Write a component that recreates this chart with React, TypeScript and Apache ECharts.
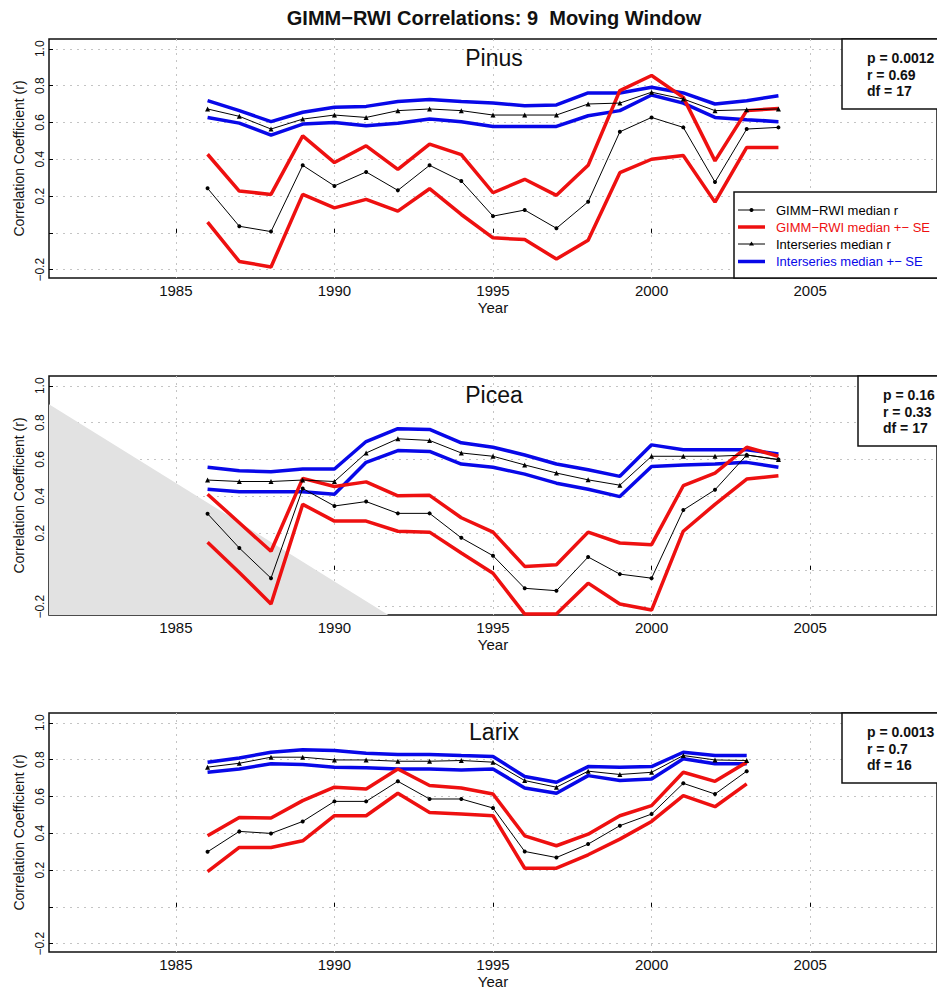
import React, { useEffect, useRef } from "react";
import * as echarts from "echarts";

const YEARS_A = [1986, 1987, 1988, 1989, 1990, 1991, 1992, 1993, 1994, 1995, 1996, 1997, 1998, 1999, 2000, 2001, 2002, 2003, 2004];
const YEARS_B = [1986, 1987, 1988, 1989, 1990, 1991, 1992, 1993, 1994, 1995, 1996, 1997, 1998, 1999, 2000, 2001, 2002, 2003];

const PANEL_NAMES = ["Pinus", "Picea", "Larix"];
const STATS_P = ["p = 0.0012", "p = 0.16", "p = 0.0013"];
const STATS_R = ["r = 0.69", "r = 0.33", "r = 0.7"];
const STATS_DF = ["df = 17", "df = 17", "df = 16"];

const X_TICKS = [1985, 1990, 1995, 2000, 2005];
const Y_TICKS = [-0.2, 0, 0.2, 0.4, 0.6, 0.8, 1.0];
const Y_LABELS = [-0.2, 0.2, 0.4, 0.6, 0.8, 1.0];

const LEGEND_LABELS = ["GIMM\u2212RWI median r", "GIMM\u2212RWI median +\u2212 SE", "Interseries median r", "Interseries median +\u2212 SE"];

// Pinus
const pinusGimm = [0.242, 0.036, 0.007, 0.367, 0.255, 0.331, 0.231, 0.367, 0.282, 0.091, 0.124, 0.025, 0.169, 0.549, 0.627, 0.573, 0.276, 0.564, 0.573];
const pinusGimmHi = [0.427, 0.227, 0.209, 0.527, 0.382, 0.473, 0.345, 0.482, 0.425, 0.218, 0.291, 0.204, 0.367, 0.773, 0.855, 0.736, 0.391, 0.664, 0.676];
const pinusGimmLo = [0.058, -0.155, -0.185, 0.209, 0.136, 0.182, 0.118, 0.24, 0.1, -0.027, -0.036, -0.142, -0.04, 0.327, 0.4, 0.42, 0.167, 0.464, 0.464];
const pinusInter = [0.673, 0.633, 0.564, 0.618, 0.64, 0.627, 0.664, 0.673, 0.664, 0.64, 0.64, 0.64, 0.7, 0.705, 0.764, 0.727, 0.664, 0.669, 0.673];
const pinusInterHi = [0.718, 0.664, 0.604, 0.655, 0.682, 0.687, 0.713, 0.724, 0.713, 0.705, 0.691, 0.695, 0.76, 0.76, 0.791, 0.76, 0.7, 0.718, 0.745];
const pinusInterLo = [0.627, 0.596, 0.531, 0.591, 0.6, 0.582, 0.596, 0.618, 0.604, 0.578, 0.578, 0.578, 0.636, 0.664, 0.749, 0.705, 0.627, 0.615, 0.604];

// Picea
const piceaGimm = [0.305, 0.119, -0.045, 0.442, 0.347, 0.371, 0.307, 0.307, 0.174, 0.077, -0.1, -0.113, 0.07, -0.023, -0.045, 0.325, 0.435, 0.624, 0.599];
const piceaGimmHi = [0.411, 0.256, 0.101, 0.497, 0.453, 0.478, 0.402, 0.405, 0.283, 0.205, 0.019, 0.028, 0.205, 0.146, 0.137, 0.457, 0.526, 0.666, 0.617];
const piceaGimmLo = [0.15, -0.014, -0.185, 0.356, 0.265, 0.265, 0.21, 0.205, 0.092, -0.018, -0.24, -0.24, -0.072, -0.185, -0.218, 0.21, 0.356, 0.493, 0.511];
const piceaInter = [0.488, 0.48, 0.48, 0.488, 0.48, 0.635, 0.712, 0.703, 0.635, 0.617, 0.57, 0.526, 0.489, 0.46, 0.617, 0.617, 0.617, 0.624, 0.599];
const piceaInterHi = [0.557, 0.539, 0.533, 0.548, 0.548, 0.697, 0.767, 0.763, 0.69, 0.666, 0.624, 0.575, 0.544, 0.508, 0.679, 0.653, 0.653, 0.653, 0.63];
const piceaInterLo = [0.438, 0.424, 0.424, 0.424, 0.411, 0.584, 0.648, 0.643, 0.575, 0.557, 0.52, 0.471, 0.438, 0.398, 0.562, 0.57, 0.575, 0.584, 0.557];

// Larix
const larixGimm = [0.299, 0.41, 0.399, 0.464, 0.573, 0.573, 0.682, 0.586, 0.586, 0.537, 0.301, 0.268, 0.341, 0.441, 0.504, 0.671, 0.613, 0.737];
const larixGimmHi = [0.386, 0.486, 0.483, 0.577, 0.65, 0.64, 0.749, 0.659, 0.646, 0.613, 0.386, 0.332, 0.395, 0.495, 0.55, 0.731, 0.682, 0.786];
const larixGimmLo = [0.192, 0.323, 0.323, 0.359, 0.495, 0.495, 0.617, 0.513, 0.504, 0.495, 0.21, 0.21, 0.283, 0.368, 0.464, 0.604, 0.544, 0.668];
const larixInter = [0.759, 0.78, 0.813, 0.813, 0.798, 0.798, 0.791, 0.791, 0.795, 0.786, 0.686, 0.65, 0.737, 0.719, 0.731, 0.822, 0.798, 0.795];
const larixInterHi = [0.786, 0.809, 0.84, 0.853, 0.849, 0.835, 0.828, 0.828, 0.822, 0.817, 0.708, 0.677, 0.762, 0.759, 0.762, 0.84, 0.822, 0.822];
const larixInterLo = [0.731, 0.749, 0.777, 0.773, 0.759, 0.755, 0.749, 0.749, 0.744, 0.749, 0.646, 0.617, 0.713, 0.686, 0.695, 0.804, 0.777, 0.777];

// Picea grey wedge (year, r)
const WEDGE_X = [1981, 1991.7];
const WEDGE_Y = [0.9, -0.245];

const FONT = "'Liberation Sans', Arial, Helvetica, sans-serif";
const RED = "#ee1010";
const BLUE = "#0808e8";

const GRID_LEFT = 49;
const GRID_W = 889;
const GRID_H = 239;
const GRID_TOPS = [39, 376, 713];
const STAT_BOX_X = [842, 858, 842];

function pairs(xs: number[], ys: number[]) {
  return xs.map((x, i) => [x, ys[i]]);
}

export default function App() {
  const ref = useRef<HTMLDivElement>(null);

  useEffect(() => {
    if (!ref.current) return;
    const chart = echarts.init(ref.current, undefined, { renderer: "svg" });

    const panels = [
      { years: YEARS_A, g: pinusGimm, gh: pinusGimmHi, gl: pinusGimmLo, s: pinusInter, sh: pinusInterHi, sl: pinusInterLo },
      { years: YEARS_A, g: piceaGimm, gh: piceaGimmHi, gl: piceaGimmLo, s: piceaInter, sh: piceaInterHi, sl: piceaInterLo },
      { years: YEARS_B, g: larixGimm, gh: larixGimmHi, gl: larixGimmLo, s: larixInter, sh: larixInterHi, sl: larixInterLo },
    ];

    const grids = GRID_TOPS.map((t) => ({
      left: GRID_LEFT,
      top: t,
      width: GRID_W,
      height: GRID_H,
      show: true,
      borderColor: "#111",
      borderWidth: 1.5,
      backgroundColor: "transparent",
    }));

    const xAxes = GRID_TOPS.map((_, i) => ({
      type: "value",
      gridIndex: i,
      min: 1981,
      max: 2009,
      axisLine: { show: false },
      axisTick: { show: true, inside: true, length: 4, customValues: X_TICKS, lineStyle: { color: "#000", width: 1 } },
      axisLabel: {
        customValues: X_TICKS,
        fontSize: 15,
        fontFamily: FONT,
        color: "#111",
        margin: 5,
        formatter: (v: number) => String(Math.round(v)),
      },
      splitLine: { show: true, lineStyle: { color: "#c4c4c4", width: 1, type: [2, 5] } },
      name: "Year",
      nameLocation: "middle",
      nameGap: 22,
      nameTextStyle: { fontSize: 15, fontFamily: FONT, color: "#111" },
    }));

    const yAxes = GRID_TOPS.map((_, i) => ({
      type: "value",
      gridIndex: i,
      min: -0.245,
      max: 1.053,
      axisLine: { show: false },
      axisTick: { show: true, inside: true, length: 4, customValues: Y_TICKS, lineStyle: { color: "#000", width: 1 } },
      axisLabel: {
        customValues: Y_LABELS,
        rotate: 90,
        fontSize: 12,
        fontFamily: FONT,
        color: "#111",
        margin: 3,
        formatter: (v: number) => (v < 0 ? "\u2212" + Math.abs(v).toFixed(1) : v.toFixed(1)),
      },
      splitLine: { show: true, lineStyle: { color: "#c4c4c4", width: 1, type: [2, 5] } },
      name: "Correlation Coefficient (r)",
      nameLocation: "middle",
      nameGap: 20,
      nameTextStyle: { fontSize: 14, fontFamily: FONT, color: "#111" },
    }));

    const series: any[] = [];
    // grey wedge on Picea
    series.push({
      type: "line",
      xAxisIndex: 1,
      yAxisIndex: 1,
      data: pairs(WEDGE_X, WEDGE_Y),
      symbol: "none",
      lineStyle: { width: 0, opacity: 0 },
      areaStyle: { color: "#e2e2e2", opacity: 1, origin: "start" },
      z: 1,
      silent: true,
    });

    panels.forEach((p, i) => {
      const common = { type: "line", xAxisIndex: i, yAxisIndex: i, silent: true };
      [p.sh, p.sl].forEach((arr) =>
        series.push({ ...common, data: pairs(p.years, arr), symbol: "none", lineStyle: { color: BLUE, width: 3.5 }, z: 3 })
      );
      [p.gh, p.gl].forEach((arr) =>
        series.push({ ...common, data: pairs(p.years, arr), symbol: "none", lineStyle: { color: RED, width: 3.5 }, z: 4 })
      );
      series.push({
        ...common,
        data: pairs(p.years, p.g),
        symbol: "circle",
        symbolSize: 4,
        itemStyle: { color: "#000" },
        lineStyle: { color: "#000", width: 1 },
        z: 5,
      });
      series.push({
        ...common,
        data: pairs(p.years, p.s),
        symbol: "triangle",
        symbolSize: 5,
        itemStyle: { color: "#000" },
        lineStyle: { color: "#000", width: 1 },
        z: 5,
      });
    });

    const txt = (text: string, x: number, y: number, size: number, opts: any = {}) => ({
      type: "text",
      x,
      y,
      z: 110,
      silent: true,
      style: {
        text,
        fontSize: size,
        fontFamily: FONT,
        fontWeight: opts.weight || "normal",
        fill: opts.color || "#111",
        align: opts.align || "left",
        textAlign: opts.align || "left",
        verticalAlign: "middle",
        textVerticalAlign: "middle",
      },
    });

    const graphics: any[] = [];
    graphics.push(txt("GIMM\u2212RWI Correlations: 9  Moving Window", 494, 18, 20, { weight: "bold", align: "center" }));

    GRID_TOPS.forEach((t, i) => {
      graphics.push(txt(PANEL_NAMES[i], 494, t + 19, 23, { align: "center" }));
      const bx = STAT_BOX_X[i];
      graphics.push({
        type: "rect",
        z: 100,
        silent: true,
        shape: { x: bx, y: t, width: 120, height: 70 },
        style: { fill: "#fff", stroke: "#111", lineWidth: 1.5 },
      });
      graphics.push(txt(STATS_P[i], bx + 25, t + 19, 14, { weight: "bold" }));
      graphics.push(txt(STATS_R[i], bx + 25, t + 36, 14, { weight: "bold" }));
      graphics.push(txt(STATS_DF[i], bx + 25, t + 52, 14, { weight: "bold" }));
    });

    // legend in first panel
    const lt = 192;
    graphics.push({
      type: "rect",
      z: 100,
      silent: true,
      shape: { x: 734, y: lt, width: 220, height: GRID_TOPS[0] + GRID_H - lt },
      style: { fill: "#fff", stroke: "#111", lineWidth: 1.5 },
    });
    const rowY = [210, 227, 244, 261.5];
    const rowColor = ["#000", RED, "#000", BLUE];
    const rowWidth = [1, 3.5, 1, 3.5];
    rowY.forEach((y, k) => {
      graphics.push({
        type: "line",
        z: 105,
        silent: true,
        shape: { x1: 738, y1: y, x2: 765, y2: y },
        style: { stroke: rowColor[k], lineWidth: rowWidth[k] },
      });
      if (k === 0) {
        graphics.push({ type: "circle", z: 106, silent: true, shape: { cx: 751.5, cy: y, r: 2 }, style: { fill: "#000" } });
      }
      if (k === 2) {
        graphics.push({
          type: "polygon",
          z: 106,
          silent: true,
          shape: { points: [[751.5, y - 2.6], [754, y + 1.6], [749, y + 1.6]] },
          style: { fill: "#000" },
        });
      }
      graphics.push(txt(LEGEND_LABELS[k], 776, y, 13, { color: rowColor[k] }));
    });

    chart.setOption({
      animation: false,
      backgroundColor: "#fff",
      grid: grids,
      xAxis: xAxes,
      yAxis: yAxes,
      series,
      graphic: { elements: graphics },
    });

    return () => chart.dispose();
  }, []);

  return (
    <div
      ref={ref}
      style={{ position: "absolute", left: 0, top: 0, width: 937, height: 990, background: "#fff" }}
    />
  );
}
